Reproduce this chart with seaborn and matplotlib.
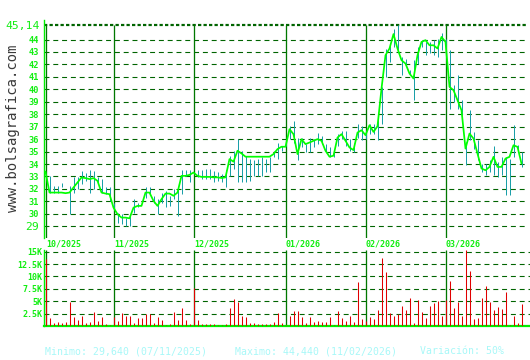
import numpy as np
import pandas as pd
import matplotlib
matplotlib.use("Agg")
import matplotlib.pyplot as plt
import seaborn as sns

# ---------------- data ----------------
close = [33.40, 31.71, 31.71, 31.71, 31.71, 31.66, 31.71, 32.12, 32.52, 32.92,
         32.87, 32.79, 32.87, 32.65, 31.71, 31.63, 31.58, 30.50, 29.97, 29.70,
         29.70, 29.64, 30.50, 30.64, 30.64, 31.71, 31.71, 31.04, 30.64, 31.18,
         31.63, 31.63, 31.45, 31.71, 33.05, 33.05, 33.13, 33.32, 33.05, 32.97,
         32.97, 32.97, 32.93, 32.93, 32.88, 32.93, 34.40, 34.19, 35.07, 34.85,
         34.59, 34.59, 34.59, 34.59, 34.59, 34.59, 34.59, 34.80, 35.20, 35.39,
         35.39, 36.80, 36.40, 34.80, 36.00, 35.60, 35.73, 35.87, 36.00, 35.87,
         35.07, 34.59, 34.67, 36.13, 36.40, 35.87, 35.33, 35.12, 36.53, 36.72,
         36.32, 37.12, 36.58, 37.04, 40.06, 42.74, 43.28, 44.44, 43.28, 42.34,
         42.07, 41.27, 40.87, 42.74, 43.81, 43.95, 43.54, 43.54, 43.28, 44.21,
         43.81, 40.20, 39.93, 39.13, 38.32, 35.24, 36.45, 36.05, 34.84, 33.64,
         33.50, 33.77, 34.58, 33.77, 33.77, 34.44, 34.58, 35.51, 35.38, 34.04]

high = [33.40, 33.05, 32.25, 32.25, 32.44, 31.66, 32.25, 32.92, 32.92, 33.46,
        33.32, 33.51, 33.46, 32.92, 32.79, 32.12, 32.12, 30.91, 30.10, 29.97,
        29.70, 29.84, 31.18, 30.91, 30.64, 32.12, 32.12, 31.45, 31.18, 31.71,
        31.85, 31.45, 31.98, 32.12, 33.51, 33.51, 33.51, 33.32, 33.51, 33.51,
        33.60, 33.60, 33.47, 33.33, 33.20, 33.52, 34.67, 35.07, 36.00, 35.07,
        34.67, 34.40, 34.32, 34.40, 34.53, 34.40, 34.53, 35.07, 35.73, 35.47,
        36.00, 37.07, 37.47, 36.13, 36.13, 35.60, 36.13, 36.00, 36.53, 36.27,
        35.60, 35.33, 35.20, 36.40, 36.67, 36.67, 36.00, 35.73, 37.20, 37.07,
        36.67, 37.25, 37.25, 37.52, 40.20, 43.28, 43.54, 44.88, 45.14, 42.61,
        42.47, 41.54, 42.34, 43.41, 43.95, 43.81, 43.81, 43.95, 44.08, 44.54,
        44.08, 43.14, 40.33, 41.14, 39.13, 35.79, 38.38, 36.58, 35.91, 34.04,
        34.04, 34.31, 35.43, 34.17, 34.58, 34.58, 34.44, 37.12, 35.51, 34.98]

low = [33.40, 31.71, 31.71, 31.71, 32.12, 31.66, 30.02, 31.71, 31.98, 32.38,
       32.65, 31.71, 31.98, 32.38, 31.71, 31.63, 31.04, 30.37, 29.30, 29.17,
       29.03, 29.03, 30.10, 30.51, 30.64, 31.31, 31.58, 30.91, 29.97, 30.91,
       30.51, 30.64, 31.18, 29.84, 31.58, 33.05, 32.52, 33.32, 32.92, 32.79,
       32.80, 32.80, 32.53, 32.67, 32.53, 32.13, 33.07, 33.60, 32.53, 32.53,
       32.53, 32.67, 33.07, 33.07, 33.07, 33.33, 33.33, 34.53, 34.40, 35.07,
       35.47, 36.00, 35.73, 34.32, 35.33, 34.93, 34.93, 35.33, 35.60, 35.60,
       35.07, 34.59, 34.59, 35.47, 36.00, 35.47, 35.07, 34.93, 36.13, 35.91,
       36.00, 36.45, 36.45, 35.91, 37.25, 41.00, 42.21, 43.41, 43.14, 41.14,
       41.94, 41.14, 39.13, 42.07, 43.41, 42.74, 42.88, 42.74, 42.61, 43.14,
       42.61, 38.46, 38.99, 38.46, 37.52, 33.91, 35.91, 35.24, 34.31, 33.37,
       33.10, 33.37, 33.10, 32.97, 33.10, 31.50, 31.50, 34.58, 34.98, 33.77]

volume_k = [13.5, 1.55, 0.67, 0.8, 0.6, 0.8, 4.9, 1.75, 1.2, 2.0,
            0.6, 0.8, 2.75, 1.0, 1.75, 0.35, 0.2, 1.75, 1.0, 2.6,
            2.0, 2.0, 0.6, 1.6, 1.6, 2.4, 2.4, 0.6, 1.8, 1.2,
            0.2, 0.4, 2.75, 1.2, 3.6, 1.2, 0.4, 7.7, 1.2, 0.4,
            0.4, 0.4, 0.4, 0.2, 0.2, 0.4, 3.6, 5.45, 4.9, 2.0,
            1.8, 0.6, 0.6, 0.4, 0.4, 0.4, 0.4, 0.8, 2.6, 0.6,
            0.3, 2.0, 3.0, 3.0, 1.8, 0.6, 1.8, 0.8, 1.0, 0.8,
            0.8, 1.8, 0.2, 3.0, 1.6, 1.0, 2.0, 0.8, 8.95, 1.4,
            1.0, 1.8, 1.4, 3.2, 13.7, 10.9, 2.6, 2.0, 2.4, 4.0,
            3.2, 5.65, 0.6, 5.25, 2.8, 1.6, 4.0, 4.6, 5.1, 2.0,
            5.3, 9.1, 3.6, 4.85, 2.0, 15.35, 11.1, 1.4, 1.6, 5.65,
            8.1, 4.85, 3.2, 3.85, 3.45, 6.9, 0.2, 2.0, 0.6, 4.45]

month_labels = ["10/2025", "11/2025", "12/2025", "01/2026", "02/2026", "03/2026"]
month_starts = [0, 17, 37, 60, 80, 100]
price_ticks = list(range(29, 45))
price_top = 45.14
price_top_label = "45,14"
vol_ticks = [2.5, 5, 7.5, 10, 12.5, 15]
vol_tick_labels = ["2.5K", "5K", "7.5K", "10K", "12.5K", "15K"]
min_text = "Minimo: 29,640 (07/11/2025)"
max_text = "Maximo: 44,440 (11/02/2026)"
var_text = "Variación: 50%"
watermark = "www.bolsagrafica.com"

df = pd.DataFrame({"day": np.arange(len(close)), "close": close,
                   "high": high, "low": low, "vol": volume_k})

# ---------------- style ----------------
sns.set_theme(style="white")
plt.rcParams["font.family"] = ["DejaVu Sans Mono", "DejaVu Sans"]

BRIGHT = "#00ee00"
LINE = "#00ff00"
GRID = "#006400"
MONTH = "#007800"
TEAL = "#1a9fa8"
RED = "#e00000"
TXT = "#11ee11"
PX = 0.72  # one pixel in points at 100 dpi

W, H = 530, 360
fig = plt.figure(figsize=(W / 100, H / 100), dpi=100)
fig.patch.set_facecolor("white")

xl = -0.375
ax = fig.add_axes([44 / W, (H - 238) / H, 484 / W, 218 / H])
axv = fig.add_axes([44 / W, (H - 326) / H, 486 / W, 76 / H])

# ---------------- price panel ----------------
ax.set_xlim(xl, xl + 484 / 4)
ax.set_ylim(28.06, 45.57)
ax.hlines(price_ticks, xl, xl + 484 / 4, colors=GRID, lw=PX * 1.1,
          linestyles=(0, (4.5, 3.5)), zorder=1)
ax.hlines([price_top], xl, xl + 484 / 4, colors=GRID, lw=PX * 2.2,
          linestyles=(0, (1.5, 1.0)), zorder=1)
ax.vlines(month_starts, 28.06, price_top, colors=MONTH, lw=PX * 1.3,
          snap=True, zorder=2)
ax.vlines(df["day"], df["low"], df["high"], colors=TEAL, lw=PX,
          snap=True, zorder=3)
sns.lineplot(data=df, x="day", y="close", ax=ax, color=LINE, lw=1.25,
             zorder=4, sort=False)
ax.set_xlabel("")
ax.set_ylabel("")
ax.set_xticks([])
ax.set_yticks(price_ticks + [price_top])
ax.set_yticklabels([str(t) for t in price_ticks] + [price_top_label])
ax.tick_params(axis="y", length=0, pad=3.3, labelcolor=TXT)
for lab in ax.get_yticklabels():
    lab.set_fontweight("bold")
    lab.set_fontsize(6.2)
labs = ax.get_yticklabels()
labs[0].set_fontsize(8.2)
labs[0].set_fontweight("normal")
labs[-1].set_fontsize(8.2)
labs[-1].set_fontweight("normal")
for s in ["top", "right", "bottom"]:
    ax.spines[s].set_visible(False)
ax.spines["left"].set_color(BRIGHT)
ax.spines["left"].set_linewidth(1.0)
ax.set_facecolor("none")

for m, lab in zip(month_starts, month_labels):
    ax.text(m + 0.1, 27.55, lab, ha="left", va="center", fontsize=6.0,
            fontweight="bold", color=TXT, clip_on=False)

# ---------------- volume panel ----------------
axv.set_xlim(xl, xl + 486 / 4)
axv.set_ylim(0, 15.35)
axv.hlines(vol_ticks, xl, xl + 486 / 4, colors=GRID, lw=PX * 1.1,
           linestyles=(0, (4.5, 3.5)), zorder=1)
axv.vlines(month_starts, 0, 15.35, colors=MONTH, lw=PX * 1.3,
           snap=True, zorder=2)
axv.vlines(df["day"], 0, df["vol"], colors=RED, lw=PX * 1.05,
           snap=True, zorder=3)
axv.set_xticks([])
axv.set_yticks(vol_ticks)
axv.set_yticklabels(vol_tick_labels)
axv.tick_params(axis="y", length=0, pad=1.0, labelcolor=TXT, labelsize=6.0)
for lab in axv.get_yticklabels():
    lab.set_fontweight("bold")
for s in ["top", "right"]:
    axv.spines[s].set_visible(False)
axv.spines["left"].set_color(BRIGHT)
axv.spines["left"].set_linewidth(1.0)
axv.spines["bottom"].set_color(BRIGHT)
axv.spines["bottom"].set_linewidth(1.6)
axv.set_facecolor("none")

# ---------------- texts ----------------
fig.text(13 / W, 1 - 128.5 / H, watermark, rotation=90, ha="center",
         va="center", fontsize=10, color="#3a3a3a")
ty = (H - 351.5) / H
for x0, t in [(45, min_text), (235, max_text), (420, var_text)]:
    fig.text(x0 / W, ty, t, ha="left", va="center", fontsize=7.1,
             color="#a8f8f8")

fig.savefig("out.png", dpi=100)
